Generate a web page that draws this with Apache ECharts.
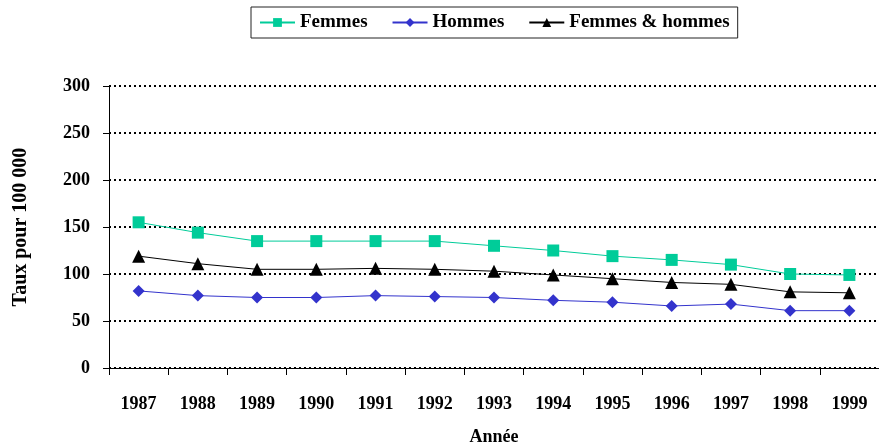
<!DOCTYPE html>
<html>
<head>
<meta charset="utf-8">
<script src="https://cdn.jsdelivr.net/npm/echarts@6/dist/echarts.min.js"></script>
<style>
  html, body { margin: 0; padding: 0; background: #fff; }
  #chart { width: 879px; height: 446px; }
</style>
</head>
<body>
<div id="chart"></div>
<script>
const years = ["1987", "1988", "1989", "1990", "1991", "1992", "1993", "1994", "1995", "1996", "1997", "1998", "1999"];
const femmes = [155, 144, 135, 135, 135, 135, 130, 125, 119, 115, 110, 100, 99];
const hommes = [82, 77, 75, 75, 77, 76, 75, 72, 70, 66, 68, 61, 61];
const ensemble = [119, 111, 105, 105, 106, 105, 103, 99, 95, 91, 89, 81, 80];

const serif = "'Liberation Serif', 'Times New Roman', serif";

const chart = echarts.init(document.getElementById("chart"), null, { renderer: "canvas" });

const lineSeries = (name, data, color, symbol, size) => ({
  name,
  type: "line",
  data,
  symbol,
  symbolSize: size,
  showSymbol: true,
  lineStyle: { color, width: 1 },
  itemStyle: { color },
  emphasis: { disabled: true },
});

chart.setOption({
  animation: false,
  textStyle: { fontFamily: serif },
  legend: {
    left: 251,
    top: 7,
    padding: [6, 8],
    itemGap: 24,
    itemWidth: 35,
    itemHeight: 11,
    borderColor: "#222",
    borderWidth: 1,
    textStyle: { fontFamily: serif, fontWeight: "bold", fontSize: 19, color: "#000" },
    data: ["Femmes", "Hommes", "Femmes & hommes"],
  },
  grid: { left: 109, right: 0, top: 86, bottom: 78, containLabel: false, outerBoundsMode: "none" },
  xAxis: {
    type: "category",
    data: years,
    boundaryGap: true,
    name: "Année",
    nameLocation: "middle",
    nameGap: 60,
    nameTextStyle: { fontFamily: serif, fontWeight: "bold", fontSize: 18, color: "#000" },
    axisLine: { lineStyle: { color: "#000", width: 1 } },
    axisTick: { show: true, alignWithLabel: false, length: 7, lineStyle: { color: "#000" } },
    axisLabel: { margin: 27, fontFamily: serif, fontWeight: "bold", fontSize: 18, color: "#000" },
    splitLine: { show: false },
  },
  yAxis: {
    type: "value",
    min: 0,
    max: 300,
    interval: 50,
    name: "Taux pour 100 000",
    nameLocation: "middle",
    nameGap: 78,
    nameRotate: 90,
    nameTextStyle: { fontFamily: serif, fontWeight: "bold", fontSize: 20, color: "#000" },
    axisLine: { show: true, lineStyle: { color: "#000", width: 1 } },
    axisTick: { show: true, length: 6, lineStyle: { color: "#000" } },
    axisLabel: { margin: 19, fontFamily: serif, fontWeight: "bold", fontSize: 18, color: "#000" },
    splitLine: { show: true, lineStyle: { color: "#000", width: 2, type: [2, 3] } },
  },
  series: [
    lineSeries("Femmes", femmes, "#00cc99", "rect", 12),
    lineSeries("Hommes", hommes, "#3333cc", "diamond", 12),
    lineSeries("Femmes & hommes", ensemble, "#000000", "triangle", 13),
  ],
});
</script>
</body>
</html>
